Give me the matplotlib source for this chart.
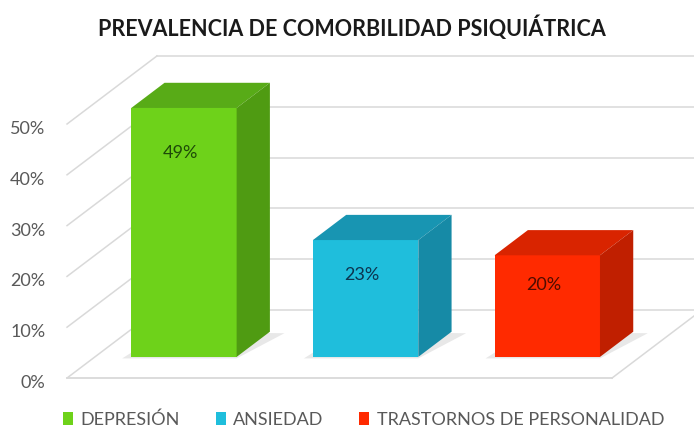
import matplotlib.pyplot as plt
from matplotlib.patches import Polygon, Patch

categories = ['DEPRESIÓN', 'ANSIEDAD', 'TRASTORNOS DE PERSONALIDAD']
values = [49, 23, 20]
y_ticks = [0, 10, 20, 30, 40, 50]
title = 'PREVALENCIA DE COMORBILIDAD PSIQUIÁTRICA'

front_colors = ['#6ed21a', '#1fbedc', '#ff2a00']
top_colors = ['#58ab17', '#1895b2', '#d92400']
side_colors = ['#4f9b12', '#168aa6', '#c01f00']
text_colors = ['#1e4a08', '#0c3550', '#4f0c00']
label_drop = [8.8, 6.9, 5.9]

plt.rcParams['font.family'] = ['Lato', 'DejaVu Sans']

# oblique projection of the depth axis, in data units
dx, dy = 0.495, 13.4
t0, bd = 0.31, 0.37
bar_w = 0.58
grid_col = '#d9d9d9'

fig = plt.figure(figsize=(6.94, 4.32), dpi=100)
ax = fig.add_axes([0, 0, 1, 1])
ax.set_xlim(-0.369, 3.451)
ax.set_ylim(-10.63, 74.41)
ax.axis('off')

n = len(categories)
# walls and floor
for v in y_ticks:
    ax.plot([dx, n + dx], [v + dy, v + dy], color=grid_col, lw=1.1, zorder=1)
    ax.plot([0, dx], [v, v + dy], color=grid_col, lw=1.1, zorder=1)
    ax.text(-0.12, v - 1.0, f'{v}%', ha='right', va='center', fontsize=13, color='#595959')
ax.plot([0, n], [0, 0], color=grid_col, lw=1.3, zorder=1)
ax.plot([n, n + dx], [0, dy], color=grid_col, lw=1.1, zorder=1)

for i, v in enumerate(values):
    c = i + 0.49
    x0 = c - bar_w / 2 + t0 * dx
    x1 = c + bar_w / 2 + t0 * dx
    yb = t0 * dy
    yt = v + t0 * dy
    ox, oy = bd * dx, bd * dy
    # soft shadow on the floor
    ax.add_patch(Polygon([(x0 - 0.05, yb - 0.3), (x1, yb - 0.3), (x1 + ox + 0.08, yb + oy - 0.3),
                          (x0 + ox, yb + oy)], closed=True, color='#e8e8e8', lw=0, zorder=2))
    ax.add_patch(Polygon([(x0, yb), (x1, yb), (x1, yt), (x0, yt)], closed=True,
                         facecolor=front_colors[i], edgecolor='none', zorder=3))
    ax.add_patch(Polygon([(x0, yt), (x1, yt), (x1 + ox, yt + oy), (x0 + ox, yt + oy)], closed=True,
                         facecolor=top_colors[i], edgecolor='none', zorder=3))
    ax.add_patch(Polygon([(x1, yb), (x1, yt), (x1 + ox, yt + oy), (x1 + ox, yb + oy)], closed=True,
                         facecolor=side_colors[i], edgecolor='none', zorder=3))
    ax.text((x0 + x1) / 2 - 0.02, yt - label_drop[i], f'{v}%', ha='center', va='center',
            fontsize=13, color=text_colors[i], zorder=4)

fig.text(0.507, 0.935, title, ha='center', va='center', fontsize=15.5, fontweight='bold',
         color='#1a1a1a')

handles = [Patch(facecolor=front_colors[i], edgecolor='none', label=categories[i]) for i in range(n)]
leg = fig.legend(handles=handles, loc='center', bbox_to_anchor=(0.524, 0.029), ncol=3,
                 frameon=False, fontsize=13, handlelength=0.55, handleheight=0.75,
                 handletextpad=0.4, columnspacing=2.0, labelcolor='#595959')

fig.savefig('out.png', dpi=100)
